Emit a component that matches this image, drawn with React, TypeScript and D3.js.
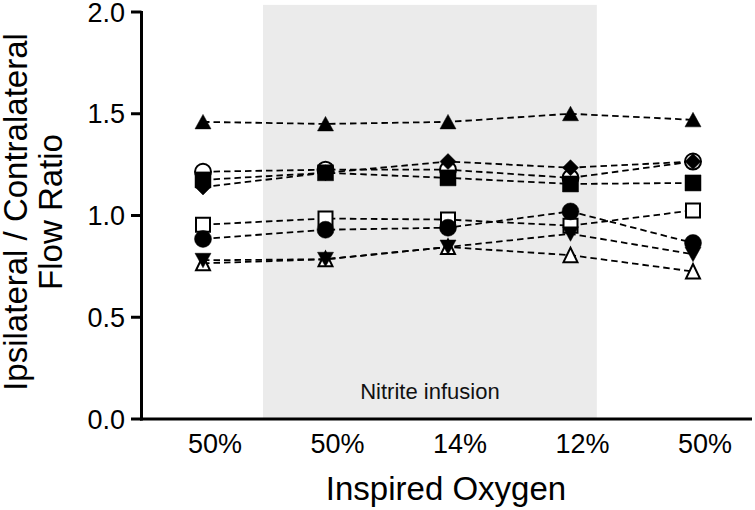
import React from "react";
import * as d3 from "d3";

const categories = ["50%", "50%", "14%", "12%", "50%"];
const yTicks = [0, 0.5, 1.0, 1.5, 2.0];

const triUpFilled = [1.46, 1.45, 1.46, 1.5, 1.47];
const circleOpen = [1.215, 1.225, 1.225, 1.185, 1.265];
const diamondFilled = [1.14, 1.21, 1.265, 1.235, 1.265];
const squareFilled = [1.175, 1.21, 1.185, 1.155, 1.16];
const squareOpen = [0.955, 0.985, 0.98, 0.95, 1.025];
const circleFilled = [0.885, 0.93, 0.94, 1.02, 0.865];
const triDownFilled = [0.78, 0.785, 0.845, 0.91, 0.81];
const triUpOpen = [0.765, 0.785, 0.845, 0.805, 0.725];

const shadeStart = 0.49;
const shadeEnd = 3.215;
const shadeTop = 2.035;

type Shape = "triUp" | "triDown" | "circle" | "square" | "diamond";
const series: { values: number[]; shape: Shape; filled: boolean }[] = [
  { values: circleOpen, shape: "circle", filled: false },
  { values: squareOpen, shape: "square", filled: false },
  { values: triUpOpen, shape: "triUp", filled: false },
  { values: triUpFilled, shape: "triUp", filled: true },
  { values: diamondFilled, shape: "diamond", filled: true },
  { values: squareFilled, shape: "square", filled: true },
  { values: circleFilled, shape: "circle", filled: true },
  { values: triDownFilled, shape: "triDown", filled: true },
];

const FONT = "'Liberation Sans', Arial, Helvetica, sans-serif";

function markerPath(shape: Shape, cx: number, cy: number, filled: boolean): string {
  const s = filled ? 8 : 7;
  switch (shape) {
    case "triUp":
      return `M${cx - s},${cy + 7}L${cx + s},${cy + 7}L${cx},${cy - 7.5}Z`;
    case "triDown":
      return `M${cx - s},${cy - 7}L${cx + s},${cy - 7}L${cx},${cy + 7.5}Z`;
    case "square":
      return `M${cx - s},${cy - s}h${2 * s}v${2 * s}h${-2 * s}Z`;
    case "diamond":
      return `M${cx},${cy - 8}L${cx + 8},${cy}L${cx},${cy + 8}L${cx - 8},${cy}Z`;
    case "circle":
    default: {
      const r = filled ? 8.5 : 8;
      return `M${cx - r},${cy}a${r},${r} 0 1,0 ${2 * r},0a${r},${r} 0 1,0 ${-2 * r},0Z`;
    }
  }
}

export default function App() {
  const width = 755;
  const height = 510;
  const x = d3.scaleLinear().domain([0, 4]).range([203, 693]);
  const y = d3.scaleLinear().domain([0, 2]).range([419, 12]);
  const axisX = 141.5;

  const line = d3
    .line<number>()
    .x((_, i) => x(i))
    .y((d) => y(d));

  return (
    <svg
      width={width}
      height={height}
      style={{ position: "absolute", left: 0, top: 0, background: "#fff" }}
    >
      <rect
        x={x(shadeStart)}
        y={y(shadeTop)}
        width={x(shadeEnd) - x(shadeStart)}
        height={y(0) - y(shadeTop)}
        fill="#ebebeb"
      />
      <text
        x={(x(shadeStart) + x(shadeEnd)) / 2}
        y={399}
        textAnchor="middle"
        fontFamily={FONT}
        fontSize={22}
        fill="#111"
      >
        Nitrite infusion
      </text>

      {series.map((s, i) => (
        <path
          key={"l" + i}
          d={line(s.values) || ""}
          fill="none"
          stroke="#000"
          strokeWidth={1.8}
          strokeDasharray="6.5,4"
        />
      ))}

      {series.map((s, i) =>
        s.values.map((v, j) => (
          <path
            key={"m" + i + "-" + j}
            d={markerPath(s.shape, x(j), y(v), s.filled)}
            fill={s.filled ? "#000" : "#fff"}
            stroke="#000"
            strokeWidth={s.filled ? 0.5 : 2}
          />
        ))
      )}

      {/* y axis */}
      <line x1={axisX} x2={axisX} y1={y(2) - 1} y2={y(0) + 1.5} stroke="#000" strokeWidth={3} />
      {yTicks.map((t) => (
        <g key={"t" + t}>
          <line x1={131} x2={axisX} y1={y(t)} y2={y(t)} stroke="#000" strokeWidth={3} />
          <text
            x={125}
            y={y(t) + 9.5}
            textAnchor="end"
            fontFamily={FONT}
            fontSize={27}
            fill="#000"
          >
            {t.toFixed(1)}
          </text>
        </g>
      ))}

      {/* x axis */}
      <line x1={axisX - 1.5} x2={752} y1={y(0)} y2={y(0)} stroke="#000" strokeWidth={3} />
      {categories.map((c, i) => (
        <text
          key={"c" + i}
          x={x(i) + 12}
          y={453}
          textAnchor="middle"
          fontFamily={FONT}
          fontSize={27}
          fill="#000"
        >
          {c}
        </text>
      ))}

      <text
        x={446}
        y={500}
        textAnchor="middle"
        fontFamily={FONT}
        fontSize={33}
        fill="#000"
      >
        Inspired Oxygen
      </text>

      <g transform="translate(27,212) rotate(-90)">
        <text x={0} y={0} textAnchor="middle" fontFamily={FONT} fontSize={33} fill="#000">
          Ipsilateral / Contralateral
        </text>
        <text x={0} y={35} textAnchor="middle" fontFamily={FONT} fontSize={33} fill="#000">
          Flow Ratio
        </text>
      </g>
    </svg>
  );
}
